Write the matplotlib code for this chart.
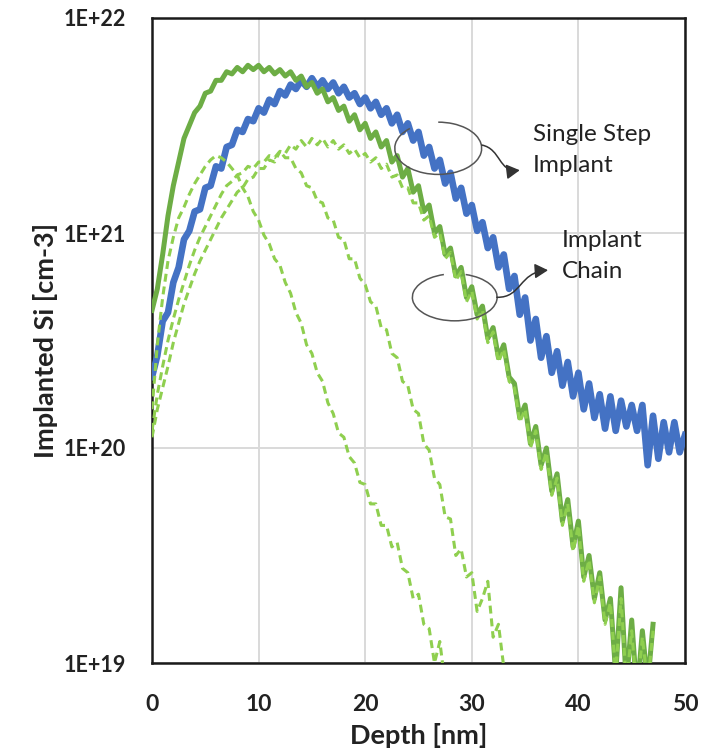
import numpy as np
import matplotlib
matplotlib.use("Agg")
import matplotlib.pyplot as plt
from matplotlib.patches import Arc, FancyArrowPatch
from matplotlib.path import Path

nan = np.nan

# Depth grid [nm]
depth = np.linspace(0, 50, 101)

# log10 of implanted Si concentration [cm-3] on the depth grid
single_step_log = [
    20.33, 20.43, 20.59, 20.63, 20.77, 20.84, 20.97, 21.01, 21.10, 21.11,
    21.21, 21.22, 21.31, 21.30, 21.40, 21.41, 21.48, 21.47, 21.53, 21.52,
    21.58, 21.56, 21.62, 21.60, 21.66, 21.64, 21.69, 21.67, 21.71, 21.68,
    21.72, 21.68, 21.71, 21.67, 21.70, 21.65, 21.68, 21.63, 21.65, 21.60,
    21.63, 21.58, 21.61, 21.55, 21.58, 21.51, 21.55, 21.47, 21.51, 21.43,
    21.47, 21.36, 21.40, 21.30, 21.34, 21.23, 21.28, 21.16, 21.21, 21.09,
    21.13, 21.01, 21.05, 20.93, 20.98, 20.84, 20.90, 20.74, 20.80, 20.62,
    20.70, 20.50, 20.60, 20.42, 20.52, 20.35, 20.45, 20.29, 20.40, 20.24,
    20.35, 20.18, 20.30, 20.14, 20.25, 20.09, 20.24, 20.08, 20.22, 20.10,
    20.20, 20.08, 20.20, 19.92, 20.15, 19.95, 20.12, 19.98, 20.12, 19.98,
    20.06,
]

chain_total_log = [
    20.64, 20.74, 20.90, 21.08, 21.22, 21.33, 21.44, 21.50, 21.56, 21.59,
    21.65, 21.66, 21.71, 21.71, 21.75, 21.74, 21.77, 21.75, 21.78, 21.76,
    21.78, 21.75, 21.77, 21.74, 21.76, 21.73, 21.75, 21.71, 21.73, 21.68,
    21.70, 21.65, 21.67, 21.61, 21.63, 21.57, 21.59, 21.52, 21.55, 21.48,
    21.51, 21.44, 21.47, 21.40, 21.43, 21.33, 21.36, 21.26, 21.30, 21.19,
    21.22, 21.10, 21.13, 21.00, 21.03, 20.90, 20.93, 20.80, 20.84, 20.70,
    20.75, 20.62, 20.66, 20.51, 20.56, 20.42, 20.48, 20.33, 20.30, 20.14,
    20.20, 20.02, 20.10, 19.92, 20.00, 19.80, 19.88, 19.66, 19.76, 19.54,
    19.66, 19.40, 19.50, 19.30, 19.42, 19.20, 19.30, 18.95, 19.35, 18.90,
    19.20, 18.85, 19.15, 18.90, 19.18, nan, nan, nan, nan, nan,
    nan,
]

chain_step1_log = [
    20.18, 20.48, 20.70, 20.87, 20.98, 21.07, 21.12, 21.18, 21.23, 21.27,
    21.31, 21.34, 21.36, 21.35, 21.33, 21.30, 21.27, 21.21, 21.17, 21.10,
    21.06, 20.99, 20.95, 20.88, 20.85, 20.77, 20.72, 20.63, 20.58, 20.48,
    20.44, 20.35, 20.31, 20.21, 20.16, 20.07, 20.05, 19.96, 19.93, 19.84,
    19.83, 19.74, 19.74, 19.64, 19.64, 19.54, 19.56, 19.44, 19.42, 19.30,
    19.32, 19.18, 19.16, 19.00, 19.10, 18.90, nan, nan, nan, nan,
] + [nan] * 41

chain_step2_log = [
    20.08, 20.25, 20.38, 20.50, 20.60, 20.69, 20.77, 20.85, 20.92, 20.98,
    21.03, 21.08, 21.13, 21.18, 21.22, 21.24, 21.27, 21.28, 21.31, 21.30,
    21.33, 21.33, 21.36, 21.35, 21.38, 21.35, 21.35, 21.30, 21.28, 21.22,
    21.21, 21.15, 21.14, 21.07, 21.06, 20.98, 20.97, 20.88, 20.88, 20.79,
    20.76, 20.68, 20.66, 20.56, 20.55, 20.44, 20.42, 20.31, 20.29, 20.18,
    20.16, 20.02, 19.99, 19.86, 19.83, 19.68, 19.67, 19.50, 19.53, 19.40,
    19.42, 19.24, 19.30, 19.38, 19.12, 19.18, 18.98, 18.85, nan, nan,
] + [nan] * 31

chain_step3_log = [
    20.05, 20.18, 20.28, 20.38, 20.49, 20.58, 20.67, 20.74, 20.81, 20.87,
    20.92, 20.97, 21.02, 21.07, 21.11, 21.15, 21.19, 21.21, 21.25, 21.26,
    21.30, 21.30, 21.34, 21.33, 21.38, 21.37, 21.41, 21.39, 21.43, 21.40,
    21.44, 21.41, 21.44, 21.40, 21.43, 21.39, 21.41, 21.37, 21.39, 21.35,
    21.37, 21.33, 21.35, 21.30, 21.32, 21.26, 21.27, 21.21, 21.21, 21.14,
    21.14, 21.06, 21.08, 20.98, 21.00, 20.88, 20.91, 20.78, 20.82, 20.68,
    20.73, 20.60, 20.64, 20.49, 20.54, 20.40, 20.46, 20.31, 20.28, 20.12,
    20.18, 20.00, 20.08, 19.90, 19.98, 19.78, 19.86, 19.64, 19.74, 19.52,
    19.64, 19.38, 19.48, 19.28, 19.40, 19.18, 19.28, 18.95, 19.30, 18.90,
    19.15, 18.85, 19.12, 18.90, 19.15, nan, nan, nan, nan, nan,
    nan,
]

x_ticks = [0, 10, 20, 30, 40, 50]
y_ticks = [1e19, 1e20, 1e21, 1e22]
y_tick_labels = ["1E+19", "1E+20", "1E+21", "1E+22"]

BLUE = "#4472C4"
GREEN = "#6DAD45"
LIGHT_GREEN = "#8FCF4F"
TEXT = "#222222"

FONT = "Lato"

fig = plt.figure(figsize=(7.05, 7.51), dpi=100)
ax = fig.add_axes([152 / 705, 1 - 663 / 751, 533 / 705, 645 / 751])

to_conc = lambda v: np.power(10.0, np.asarray(v, dtype=float))

ax.plot(depth, to_conc(single_step_log), color=BLUE, lw=4.8, solid_joinstyle="round", zorder=3)
ax.plot(depth, to_conc(chain_total_log), color=GREEN, lw=3.6, solid_joinstyle="round", zorder=4)
for series in (chain_step1_log, chain_step2_log, chain_step3_log):
    ax.plot(depth, to_conc(series), color=LIGHT_GREEN, lw=2.2,
            linestyle=(0, (2.6, 1.6)), zorder=5)

ax.set_yscale("log")
ax.set_xlim(0, 50)
ax.set_ylim(1e19, 1e22)
ax.set_xticks(x_ticks)
ax.set_xticklabels([str(t) for t in x_ticks])
ax.set_yticks(y_ticks)
ax.set_yticklabels(y_tick_labels)
ax.minorticks_off()
ax.tick_params(length=0)
for lab in ax.get_xticklabels():
    lab.set_fontfamily(FONT)
    lab.set_fontweight("bold")
    lab.set_fontsize(16.5)
    lab.set_color(TEXT)
for lab in ax.get_yticklabels():
    lab.set_fontfamily(FONT)
    lab.set_fontweight("bold")
    lab.set_fontsize(15.5)
    lab.set_color(TEXT)
ax.tick_params(axis="x", pad=22)
ax.tick_params(axis="y", pad=19)

ax.grid(True, color="#D9D9D9", lw=1.4, zorder=0)
ax.set_axisbelow(True)
for sp in ax.spines.values():
    sp.set_color("#1a1a1a")
    sp.set_linewidth(1.8)

ax.set_xlabel("Depth [nm]", fontfamily=FONT, fontweight="bold", fontsize=19.5, color=TEXT, labelpad=6)
ax.set_ylabel("Implanted Si [cm-3]", fontfamily=FONT, fontweight="bold", fontsize=19.5, color=TEXT, labelpad=4)

# Callout ellipses with curved arrows
ax.add_patch(Arc((0.537, 0.798), 0.163, 0.081, theta1=150, theta2=450,
                 transform=ax.transAxes, color="#555555", lw=1.1, zorder=6))
ax.add_patch(Arc((0.568, 0.567), 0.159, 0.073, theta1=120, theta2=420,
                 transform=ax.transAxes, color="#555555", lw=1.1, zorder=6))

callout_paths = [
    [(0.619, 0.803), (0.655, 0.797), (0.650, 0.760), (0.690, 0.764)],
    [(0.647, 0.567), (0.694, 0.566), (0.688, 0.606), (0.743, 0.609)],
]
for pts in callout_paths:
    path = Path(pts, [Path.MOVETO, Path.CURVE4, Path.CURVE4, Path.CURVE4])
    ax.add_patch(FancyArrowPatch(path=path, transform=ax.transAxes,
                                 arrowstyle="-|>,head_length=8,head_width=4.5",
                                 color="#333333", lw=1.1, zorder=6))

ax.text(0.715, 0.795, "Single Step\nImplant", transform=ax.transAxes, fontfamily=FONT,
        fontsize=17.5, color=TEXT, va="center", ha="left", linespacing=1.62)
ax.text(0.769, 0.631, "Implant\nChain", transform=ax.transAxes, fontfamily=FONT,
        fontsize=17.5, color=TEXT, va="center", ha="left", linespacing=1.62)

fig.savefig("out.png", dpi=100)
